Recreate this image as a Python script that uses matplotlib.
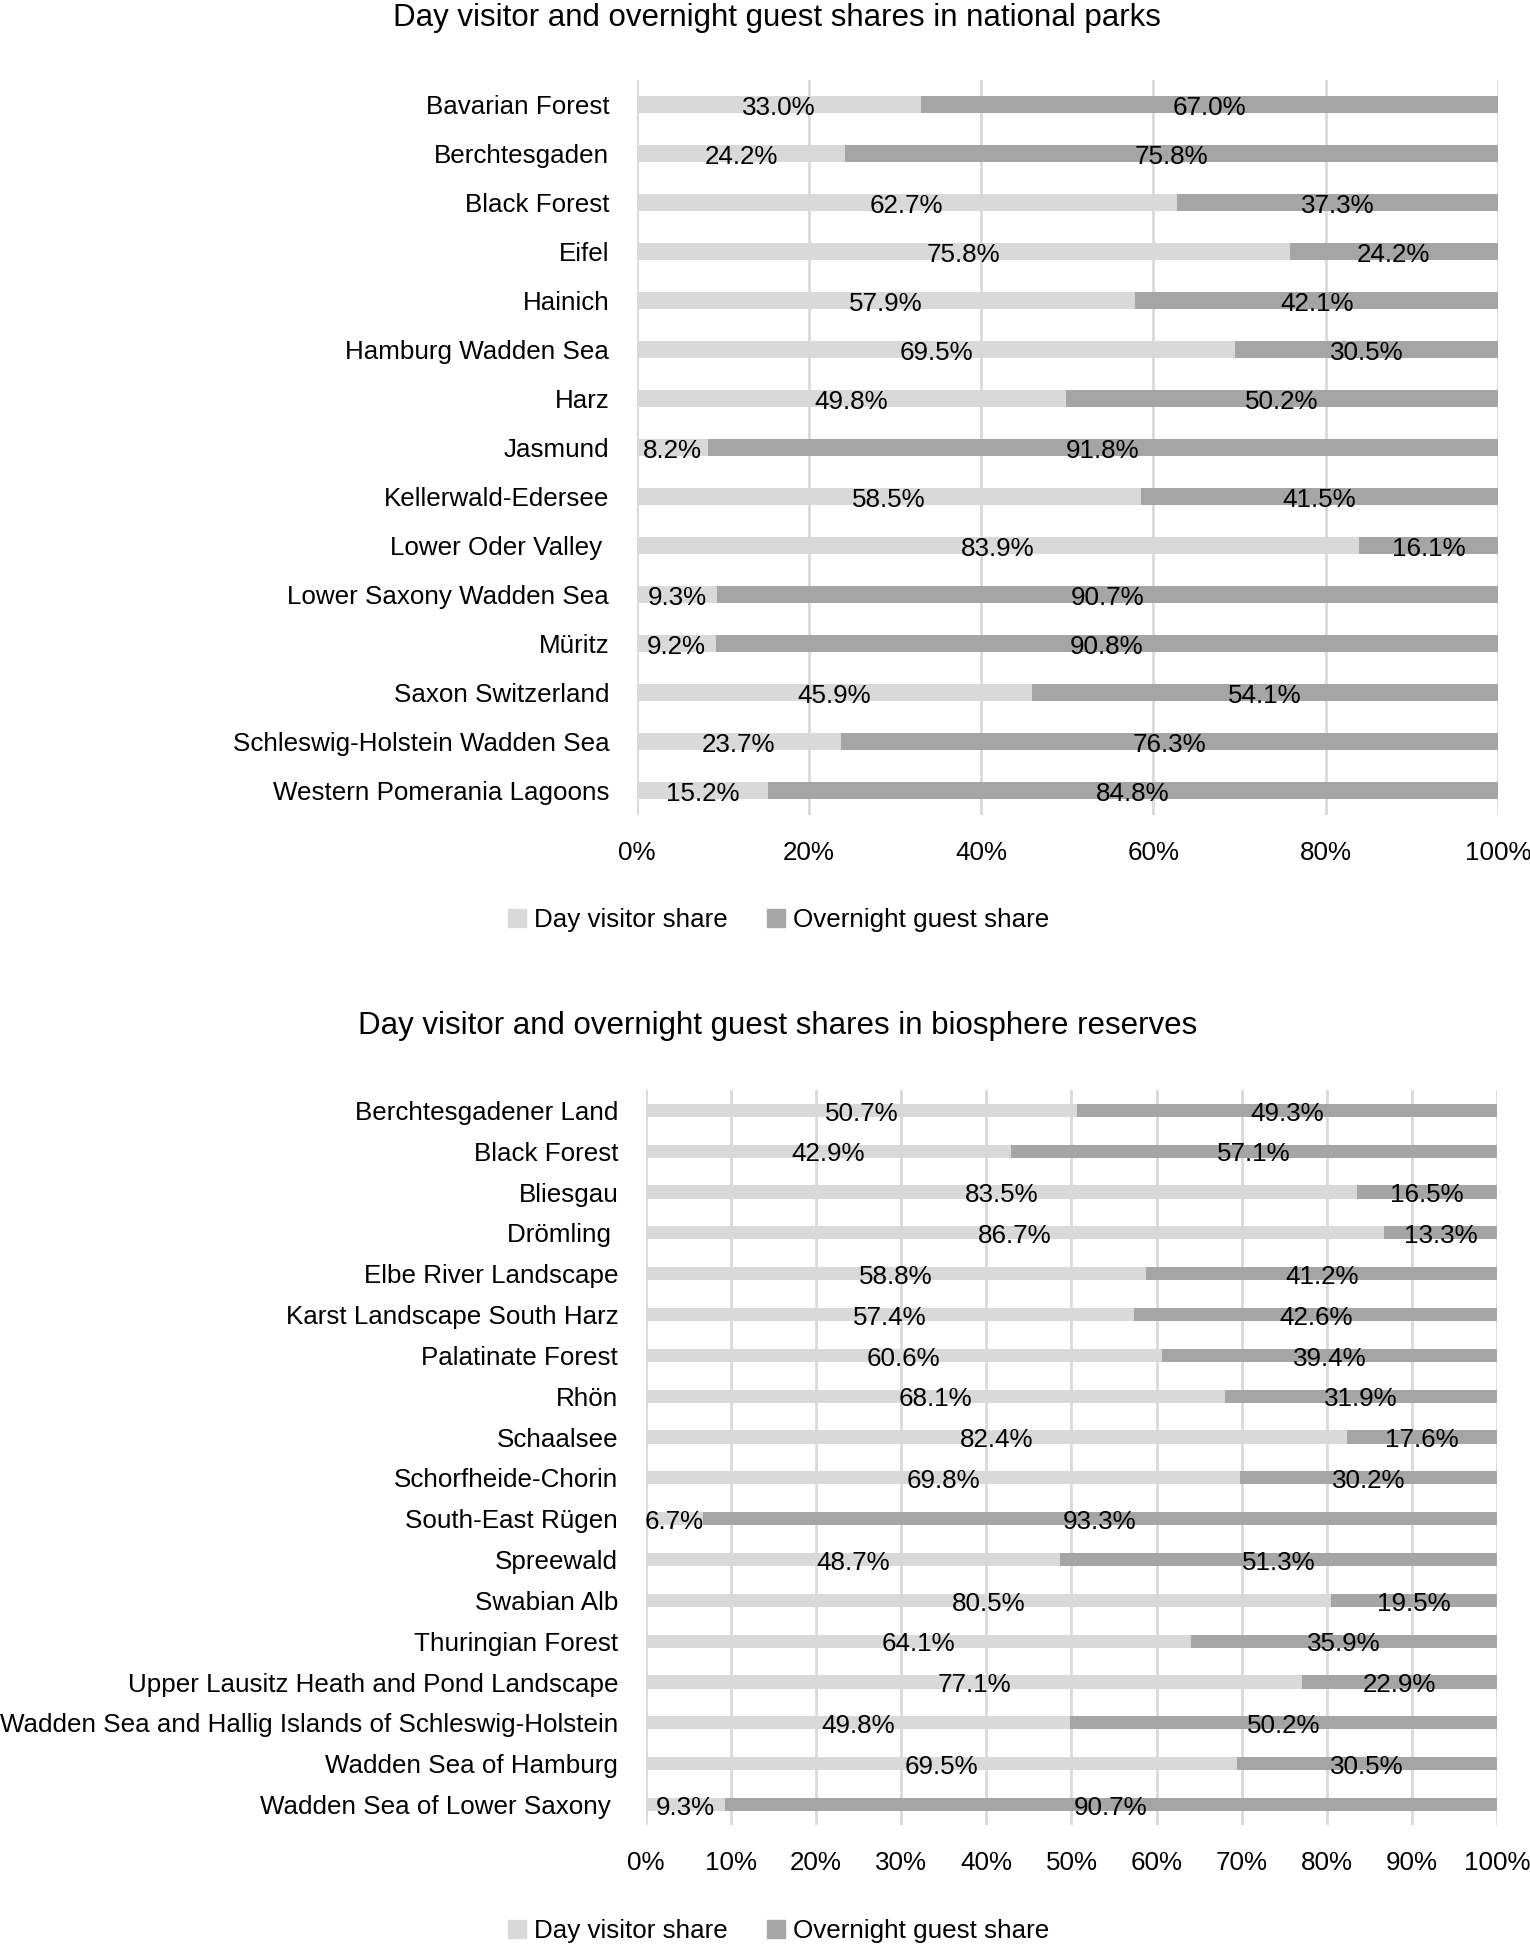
import matplotlib
matplotlib.use("Agg")
import matplotlib.pyplot as plt
from matplotlib.patches import Patch

plt.rcParams["font.family"] = ["Liberation Sans Narrow", "Liberation Sans", "DejaVu Sans"]

LIGHT = "#d9d9d9"
DARK = "#a5a5a5"
GRID = "#d9d9d9"
FS = 18.7

park_names = [
    "Bavarian Forest", "Berchtesgaden", "Black Forest", "Eifel", "Hainich",
    "Hamburg Wadden Sea", "Harz", "Jasmund", "Kellerwald-Edersee",
    "Lower Oder Valley ", "Lower Saxony Wadden Sea", "Müritz",
    "Saxon Switzerland", "Schleswig-Holstein Wadden Sea",
    "Western Pomerania Lagoons",
]
park_day = [33.0, 24.2, 62.7, 75.8, 57.9, 69.5, 49.8, 8.2, 58.5, 83.9, 9.3, 9.2, 45.9, 23.7, 15.2]
park_night = [67.0, 75.8, 37.3, 24.2, 42.1, 30.5, 50.2, 91.8, 41.5, 16.1, 90.7, 90.8, 54.1, 76.3, 84.8]

reserve_names = [
    "Berchtesgadener Land", "Black Forest", "Bliesgau", "Drömling ",
    "Elbe River Landscape", "Karst Landscape South Harz", "Palatinate Forest",
    "Rhön", "Schaalsee", "Schorfheide-Chorin", "South-East Rügen", "Spreewald",
    "Swabian Alb", "Thuringian Forest", "Upper Lausitz Heath and Pond Landscape",
    "Wadden Sea and Hallig Islands of Schleswig-Holstein",
    "Wadden Sea of Hamburg", "Wadden Sea of Lower Saxony ",
]
reserve_day = [50.7, 42.9, 83.5, 86.7, 58.8, 57.4, 60.6, 68.1, 82.4, 69.8, 6.7, 48.7, 80.5, 64.1, 77.1, 49.8, 69.5, 9.3]
reserve_night = [49.3, 57.1, 16.5, 13.3, 41.2, 42.6, 39.4, 31.9, 17.6, 30.2, 93.3, 51.3, 19.5, 35.9, 22.9, 50.2, 30.5, 90.7]


def plot_shares(ax, names, day, night, xticks, bar_h):
    y = list(range(len(names)))
    ax.barh(y, day, height=bar_h, color=LIGHT, zorder=2)
    ax.barh(y, night, left=day, height=bar_h, color=DARK, zorder=2)
    for yi, d, n in zip(y, day, night):
        ax.text(d / 2, yi + 0.08, f"{d:.1f}%", ha="center", va="center", fontsize=FS, zorder=3)
        ax.text(d + n / 2, yi + 0.08, f"{n:.1f}%", ha="center", va="center", fontsize=FS, zorder=3)
    ax.set_ylim(len(names) - 0.5, -0.5)
    ax.set_xlim(0, 100)
    ax.set_yticks(y)
    ax.set_yticklabels(names, fontsize=FS)
    ax.set_xticks(xticks)
    ax.set_xticklabels([f"{t}%" for t in xticks], fontsize=FS)
    ax.tick_params(length=0)
    ax.tick_params(axis="y", pad=20)
    ax.tick_params(axis="x", pad=19)
    for s in ax.spines.values():
        s.set_visible(False)
    ax.xaxis.grid(True, color=GRID, linewidth=2, zorder=0)
    ax.set_axisbelow(True)


fig = plt.figure(figsize=(15.3, 19.47), dpi=100)

ax1 = fig.add_axes([0.4163, 0.5814, 0.5627, 0.3775])
plot_shares(ax1, park_names, park_day, park_night, [0, 20, 40, 60, 80, 100], 0.33)

ax2 = fig.add_axes([0.4222, 0.0627, 0.5562, 0.3775])
plot_shares(ax2, reserve_names, reserve_day, reserve_night, list(range(0, 101, 10)), 0.32)

fig.text(0.508, 0.9905, "Day visitor and overnight guest shares in national parks",
         ha="center", va="center", fontsize=22.5)
fig.text(0.508, 0.4732, "Day visitor and overnight guest shares in biosphere reserves",
         ha="center", va="center", fontsize=22.5)

handles = [Patch(color=LIGHT, label="Day visitor share"),
           Patch(color=DARK, label="Overnight guest share")]
for yy in [0.5274, 0.0082]:
    fig.legend(handles=handles, loc="center", bbox_to_anchor=(0.509, yy), ncol=2,
               frameon=False, fontsize=FS, handlelength=0.7, handleheight=0.7,
               handletextpad=0.3, columnspacing=1.5)

fig.savefig("out.png", dpi=100)
